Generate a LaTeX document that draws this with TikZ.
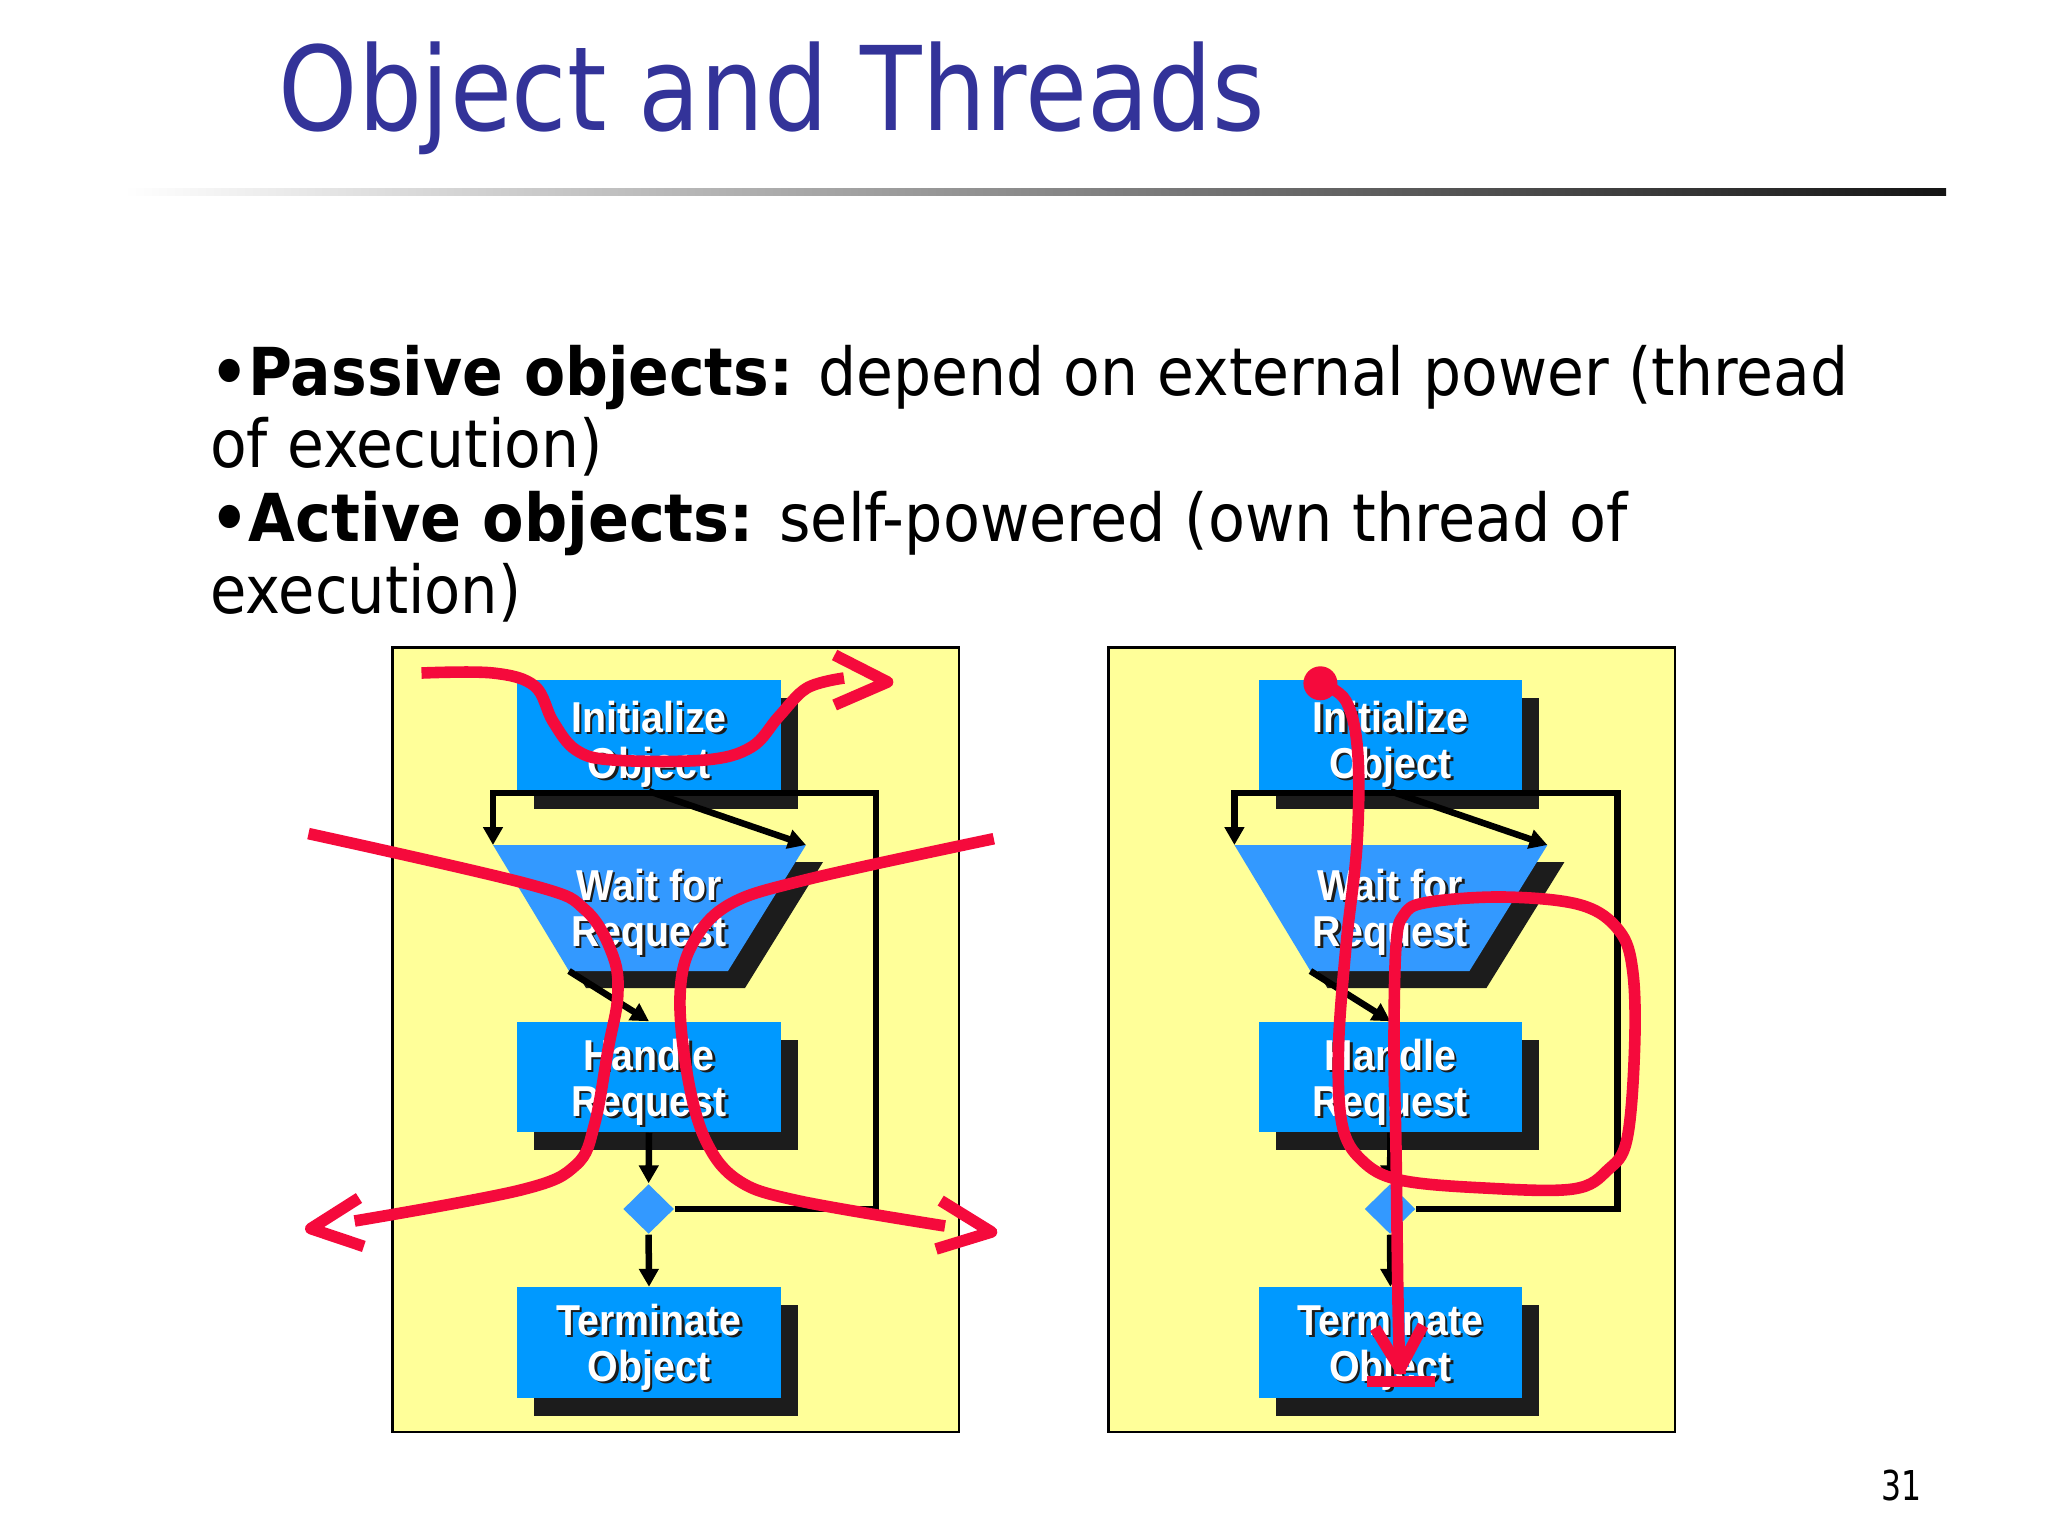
\documentclass[tikz,border=0pt]{standalone}
\usepackage{fontspec}
\usepackage{graphicx}
\setmainfont{DejaVu Sans}
\newfontfamily\boxfont{Liberation Sans}
\usetikzlibrary{shapes.geometric,arrows.meta,shadows}
\definecolor{titleblue}{RGB}{51,51,153}
\definecolor{boxblue}{RGB}{0,153,255}
\definecolor{lightblue}{RGB}{51,153,255}
\definecolor{paneyellow}{RGB}{255,255,153}
\definecolor{shadowgray}{RGB}{28,28,28}
\definecolor{penred}{RGB}{245,10,60}
\tikzset{
 flowbox/.style={rectangle, fill=boxblue, minimum width=2.63cm, minimum height=1.1cm, inner sep=0pt,
   general shadow={fill=shadowgray, shadow xshift=0.17cm, shadow yshift=-0.18cm}},
 decision/.style={diamond, fill=lightblue, minimum width=0.51cm, minimum height=0.5cm, inner sep=0pt},
 conn/.style={line width=1.85pt, black},
 arr/.style={conn, -{Triangle[length=5.1pt,width=5.4pt]}},
 lbl/.style={anchor=base, inner sep=0pt, text=white, font=\boxfont\bfseries\fontsize{12.3}{14}\selectfont},
 lblsh/.style={lbl, text=shadowgray},
 pen/.style={line width=3.3pt, penred, line join=round},
 pane/.style={fill=paneyellow, draw=black, line width=0.75pt},
 bodytext/.style={anchor=base west, inner sep=0pt, font=\fontsize{18.8}{22}\selectfont},
}
\newcommand\flowlabel[5]{%
  \node[lblsh] at ({#2+2.5},{#3+2.5}) {\scalebox{0.91}[1]{#4}};
  \node[lbl] (#1a) at (#2,#3) {\scalebox{0.91}[1]{#4}};
  \node[lblsh] at ({#2+2.5},{#3+48.5}) {\scalebox{0.91}[1]{#5}};
  \node[lbl] (#1b) at (#2,{#3+46}) {\scalebox{0.91}[1]{#5}};
}
\newcommand\panel[2]{%
\begin{scope}[xshift=#2]
 \node[flowbox] (#1init) at (649,735.5) {};
 \node[flowbox] (#1hand) at (649,1077) {};
 \node[flowbox] (#1term) at (649,1342.5) {};
 \coordinate (#1tl) at (493,845);
 \coordinate (#1tr) at (806,845);
 \coordinate (#1br) at (728,971);
 \coordinate (#1bl) at (569,971);
 \coordinate (#1fb) at (876,793);
 \fill[shadowgray] (510,862) -- (823,862) -- (745,988) -- (586,988) -- cycle;
 \fill[lightblue] (#1tl) -- (#1tr) -- (#1br) -- (#1bl) -- cycle;
 \node[decision] (#1dec) at (648.6,1209) {};
 \draw[arr] (#1dec.east) -| (#1fb) -| (#1tl);
 \draw[arr] (#1init.south) -- (#1tr);
 \draw[arr] (#1bl) -- (#1hand.north);
 \draw[arr] (#1hand.south) -- (#1dec.north);
 \draw[arr] (#1dec.south) -- (#1term.north);
 \flowlabel{#1il}{649}{732}{Initialize}{Object}
 \flowlabel{#1wl}{649}{900}{Wait for}{Request}
 \flowlabel{#1hl}{649}{1070}{Handle}{Request}
 \flowlabel{#1tl}{649}{1335}{Terminate}{Object}
\end{scope}}
\begin{document}
\begin{tikzpicture}[x=0.01cm,y=-0.01cm]
\useasboundingbox (0,0) rectangle (2048,1536);
\fill[white] (0,0) rectangle (2048,1536);
% title
\node[anchor=base west, inner sep=0pt] (title) at (278,130)
  {\resizebox{9.86cm}{\height}{\color{titleblue}\fontsize{33.2}{40}\selectfont Object and Threads}};
\shade[left color=white, right color=black!92] (124,188) rectangle (1946,195);
% body text
\node[bodytext] (l1) at (209.5,395) {\resizebox{16.37cm}{\height}{\textbf{•Passive objects:} depend on external power (thread}};
\node[bodytext] (l2) at (209.5,467) {\resizebox{3.925cm}{\height}{of execution)}};
\node[bodytext] (l3) at (209.5,541.7) {\resizebox{14.17cm}{\height}{\textbf{•Active objects:} self-powered (own thread of}};
\node[bodytext] (l4) at (209.5,613) {\resizebox{3.11cm}{\height}{execution)}};
% panels
\draw[pane] (392.5,647.6) rectangle (959,1432);
\draw[pane] (1108.5,647.6) rectangle (1675,1432);
\panel{L}{0cm}
\panel{R}{7.41cm}
% red annotations, left panel
\draw[pen] plot[smooth, tension=0.6] coordinates {(421.5,673) (493,673) (534.6,686) (553,721.5) (576,750) (613,760) (705,760) (751.5,747) (779,716.4) (807,688) (844,678)};
\draw[pen] (834.6,655) -- (887.6,682) -- (834.6,705);
\draw[pen] plot[smooth, tension=0.6] coordinates {(308.5,833.6) (530,884.6) (585.4,910) (613,956) (617.7,996.7) (608.4,1047.7) (594.6,1124) (576,1165) (520.8,1190) (354.6,1221)};
\draw[pen] (359,1198) -- (310.8,1228.6) -- (363.8,1246.4);
\draw[pen] plot[smooth, tension=0.6] coordinates {(993.8,838.7) (807,879.5) (728.4,905) (691.5,945.8) (680,996.7) (687,1073) (705,1139) (737.7,1180) (797.6,1200.6) (945,1226)};
\draw[pen] (940.7,1200.6) -- (991.5,1232) -- (936,1249);
% red annotations, right panel
\fill[penred] (1320.4,683.3) circle[radius=0.17cm];
\draw[pen] plot[smooth, tension=0.6] coordinates {(1320.4,683.3) (1346,701) (1357.7,752) (1357,844) (1346,946) (1338.5,1047.7) (1342,1124) (1361.5,1160) (1400,1180) (1484.6,1188) (1573,1189) (1607.7,1170) (1627,1139) (1634.6,1047.7) (1632.7,971) (1619,930.5) (1580.8,905) (1504,897) (1427,902.4) (1403.8,915) (1396,946) (1394,1047.7) (1396,1149.6) (1398,1302.5) (1400,1374)};
\draw[pen] (1375,1328) -- (1400,1368.7) -- (1423,1325.4);
\draw[pen] (1367,1381.5) -- (1434.6,1381.5);
% page number
\node[anchor=base east, inner sep=0pt] (pg) at (1922,1500) {\resizebox{0.40cm}{\height}{\fontsize{11.7}{14}\selectfont 31}};
\end{tikzpicture}
\end{document}
